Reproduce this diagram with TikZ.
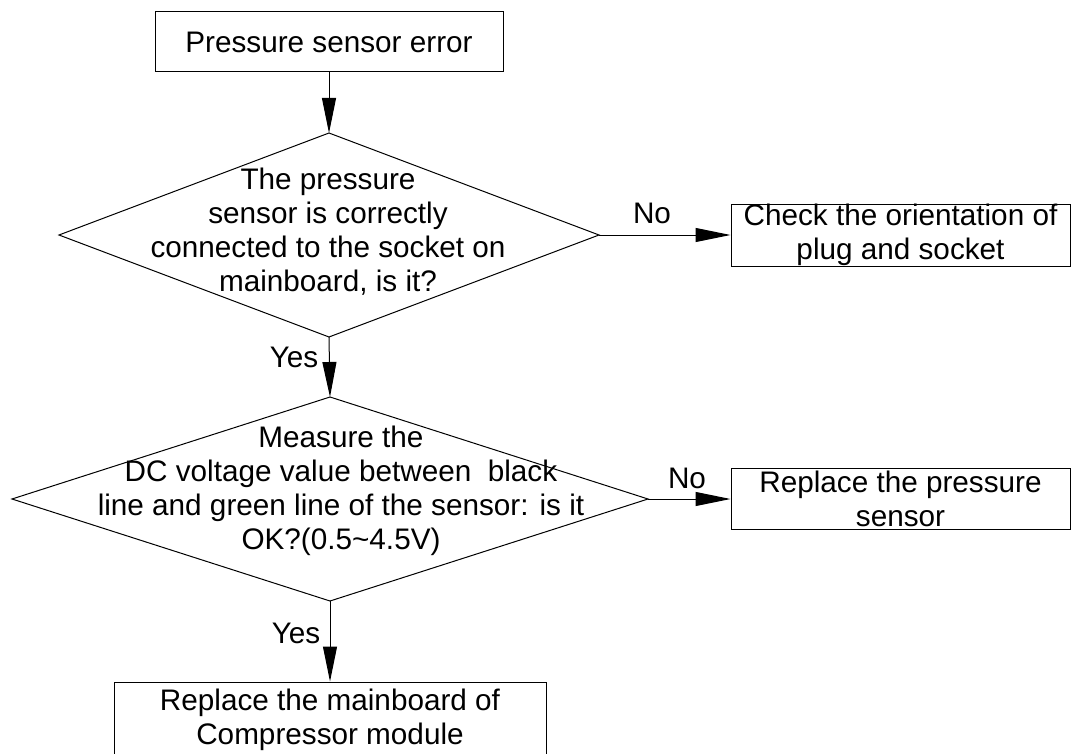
\documentclass[tikz,border=0pt]{standalone}
\usepackage{fontspec}
\setmainfont{Liberation Sans}
\usetikzlibrary{shapes.geometric,arrows.meta}
\tikzset{
  every node/.style={font=\fontsize{29.7}{34}\selectfont, inner sep=0pt},
  procbox/.style={draw, line width=1pt, rectangle, align=center},
  decision/.style={draw, line width=1pt, diamond, inner sep=0pt, outer sep=0pt},
  dtext/.style={align=center},
  lbl/.style={},
  arr/.style={line width=1pt, -{Triangle[length=35pt,width=14pt]}}
}
\begin{document}
\begin{tikzpicture}[x=1pt,y=-1pt]
\useasboundingbox (0,0) rectangle (1075,754);
\clip (0,0) rectangle (1075,754);
% boxes
\node[procbox, minimum width=348pt, minimum height=60pt] (b1) at (329,42) {Pressure sensor error};
\node[decision, minimum width=540pt, minimum height=204pt] (d1) at (329,235) {};
\node[dtext] (t1) at (328,232) {The pressure\\sensor is correctly\\connected to the socket on\\mainboard, is it?};
\node[procbox, minimum width=339pt, minimum height=62pt] (b2) at (900.5,235) {Check the orientation of\\plug and socket};
\node[decision, minimum width=636pt, minimum height=204pt] (d2) at (330,499) {};
\node[dtext] (t2) at (341,491) {Measure the\\DC voltage value between\ \ black\\line and green line of the sensor: is it\\OK?(0.5\textasciitilde4.5V)};
\node[procbox, minimum width=339pt, minimum height=61pt] (b3) at (900.5,499) {Replace the pressure\\sensor};
\node[procbox, minimum width=432pt, minimum height=76pt] (b4) at (330,720) {Replace the mainboard of\\Compressor module};
% labels
\node[lbl] (n1) at (652,213) {No};
\node[lbl] (n2) at (687,478) {No};
\node[lbl] (y1) at (294,357) {Yes};
\node[lbl] (y2) at (296,633) {Yes};
% connectors
\draw[arr] (b1.south) -- (d1.north);
\draw[arr] (d1.east) -- (b2.west);
\draw[arr] (d1.south) -- (d2.north);
\draw[arr] (d2.east) -- (b3.west);
\draw[arr] (d2.south) -- (b4.north);
\end{tikzpicture}
\end{document}
